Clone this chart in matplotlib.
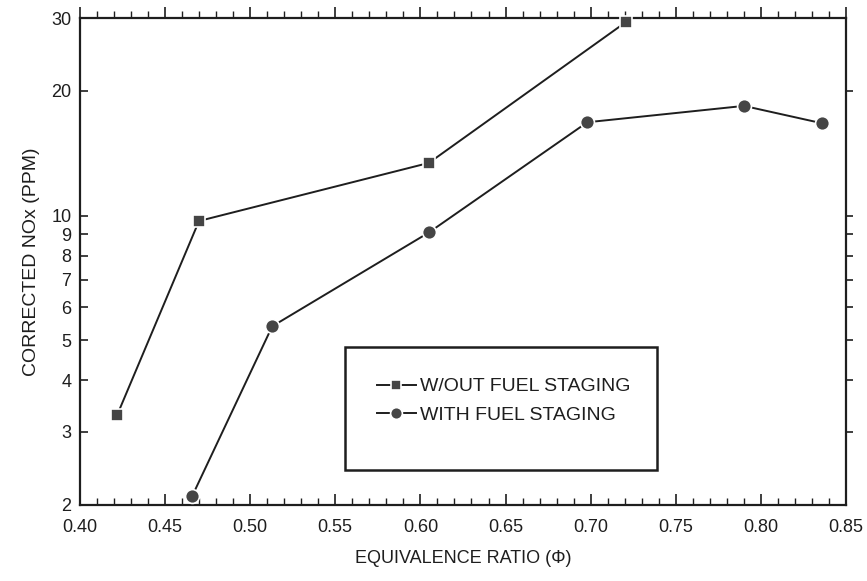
import numpy as np
import matplotlib.pyplot as plt
from matplotlib.patches import Rectangle
from matplotlib.ticker import FixedLocator, NullFormatter, NullLocator

# data
phi_no_stage = [0.422, 0.470, 0.605, 0.721]
nox_no_stage = [3.3, 9.7, 13.4, 29.4]
phi_stage = [0.466, 0.513, 0.605, 0.698, 0.790, 0.836]
nox_stage = [2.1, 5.4, 9.1, 16.8, 18.4, 16.7]

y_ticks = [2, 3, 4, 5, 6, 7, 8, 9, 10, 20, 30]
y_labels = ['2', '3', '4', '5', '6', '7', '8', '9', '10', '20', '30']
x_major = [0.40, 0.45, 0.50, 0.55, 0.60, 0.65, 0.70, 0.75, 0.80, 0.85]

ink = '#1e1e1e'
plt.rcParams['font.family'] = ['Liberation Sans', 'DejaVu Sans']

fig = plt.figure(figsize=(8.67, 5.81), dpi=100)
ax = fig.add_axes([0.092, 0.131, 0.884, 0.838])

ax.plot(phi_no_stage, nox_no_stage, '-s', color=ink, lw=1.4, ms=9,
        mfc='#454545', mec='white', mew=1.2, label='W/OUT FUEL STAGING',
        clip_on=False, zorder=3)
ax.plot(phi_stage, nox_stage, '-o', color=ink, lw=1.4, ms=10,
        mfc='#454545', mec='white', mew=1.2, label='WITH FUEL STAGING',
        clip_on=False, zorder=3)

ax.set_yscale('log')
ax.set_xlim(0.40, 0.85)
ax.set_ylim(2, 30)

ax.yaxis.set_major_locator(FixedLocator(y_ticks))
ax.set_yticklabels(y_labels)
ax.yaxis.set_minor_locator(NullLocator())
ax.yaxis.set_minor_formatter(NullFormatter())
ax.set_xticks(x_major)
ax.set_xticklabels([f'{v:.2f}' for v in x_major])
ax.set_xticks(np.arange(0.40, 0.851, 0.01), minor=True)

for s in ax.spines.values():
    s.set_color(ink)
    s.set_linewidth(1.6)

ax.tick_params(axis='x', which='both', bottom=True, top=False, direction='in',
               colors=ink, labelsize=13, pad=10)
ax.tick_params(axis='x', which='major', length=8, width=1.2)
ax.tick_params(axis='x', which='minor', length=5, width=1.0)
ax.tick_params(axis='y', which='major', left=True, right=False, direction='in',
               colors=ink, labelsize=13, length=6, width=1.2, pad=6)

# top axis ticks point outward, right axis ticks point outward
top = ax.secondary_xaxis('top')
top.set_xticks(x_major)
top.set_xticks(np.arange(0.40, 0.851, 0.01), minor=True)
top.tick_params(which='major', direction='out', length=8, width=1.2, colors=ink, labeltop=False)
top.tick_params(which='minor', direction='out', length=5, width=1.0, colors=ink)
top.spines['top'].set_visible(False)

right = ax.secondary_yaxis('right')
right.set_yscale('log')
right.yaxis.set_major_locator(FixedLocator([3, 4, 5, 6, 7, 8, 9, 10, 20]))
right.yaxis.set_minor_locator(NullLocator())
right.tick_params(direction='out', length=5, width=1.2, colors=ink, labelright=False)
right.yaxis.set_major_formatter(NullFormatter())
right.yaxis.set_minor_formatter(NullFormatter())
right.spines['right'].set_visible(False)

ax.set_xlabel('EQUIVALENCE RATIO (\u03a6)', fontsize=13, color=ink, labelpad=10)
ax.set_ylabel('CORRECTED NOx (PPM)', fontsize=14, color=ink, labelpad=8)

# legend box
ax.add_patch(Rectangle((0.346, 0.072), 0.407, 0.252, transform=ax.transAxes,
                       fill=False, ec=ink, lw=1.8, zorder=4))
leg = ax.legend(loc='center', bbox_to_anchor=(0.553, 0.214), frameon=False,
                fontsize=14, handlelength=2.0, handletextpad=0.2,
                labelspacing=0.55, markerscale=0.85)
for t in leg.get_texts():
    t.set_color(ink)

fig.savefig('out.png', dpi=100)
